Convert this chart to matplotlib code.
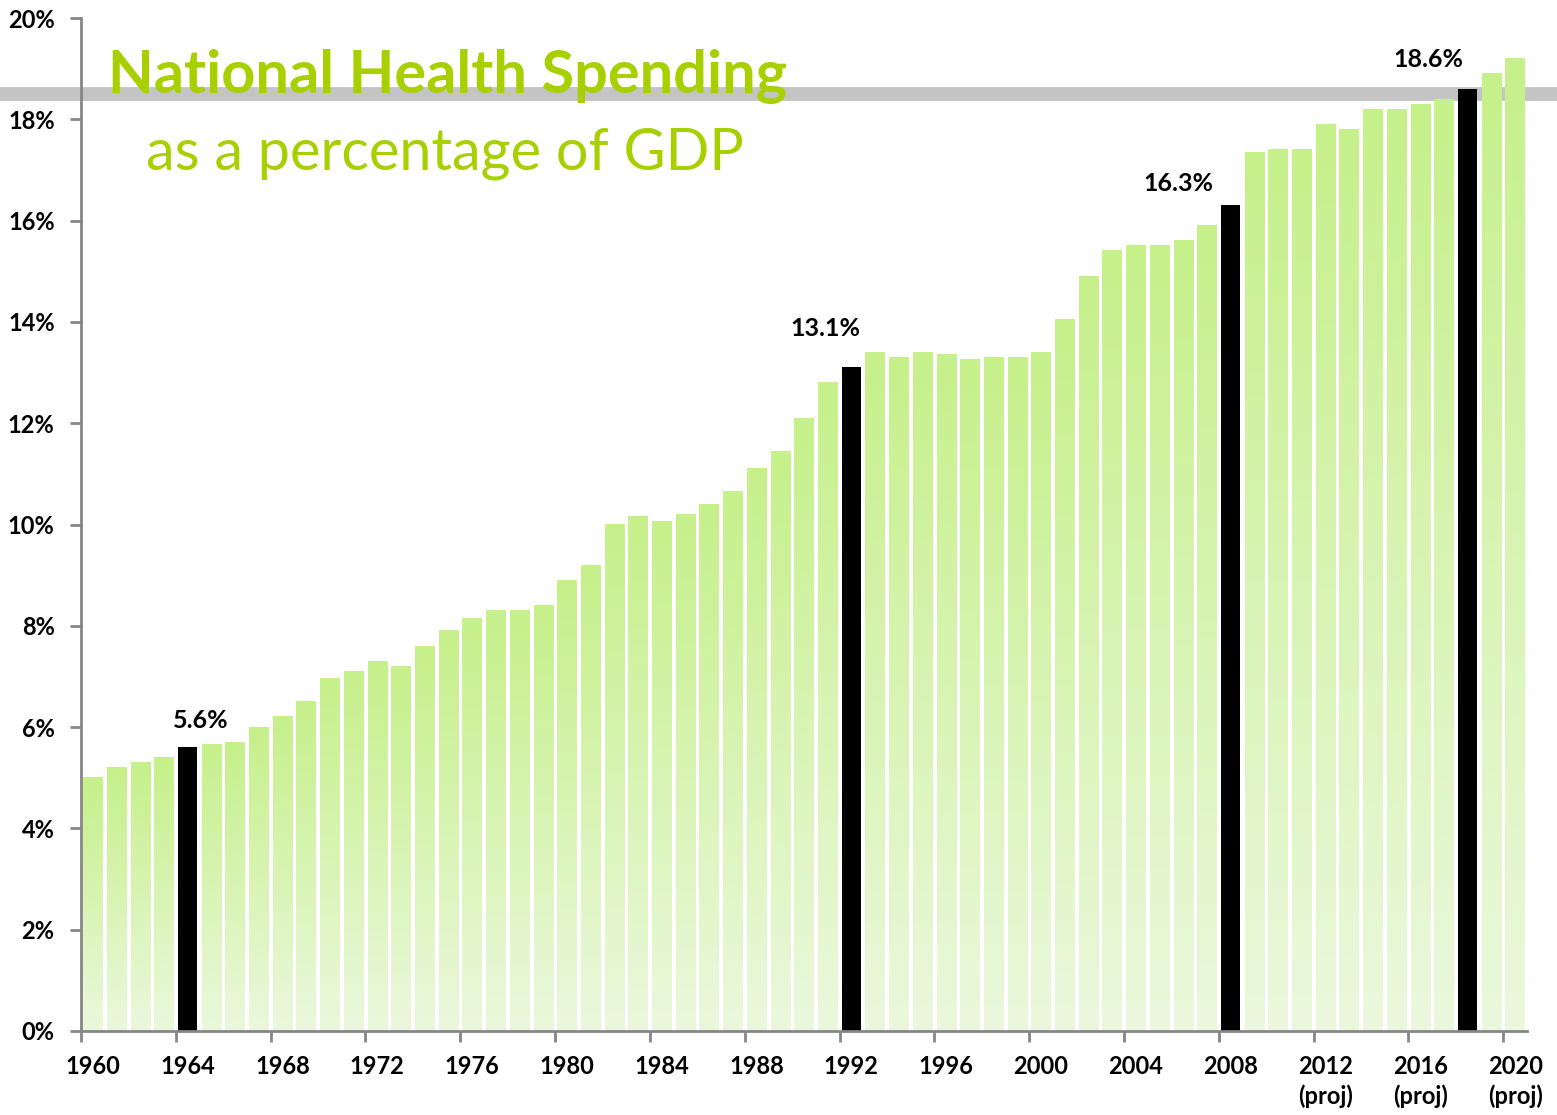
import numpy as np
import matplotlib
matplotlib.use("Agg")
import matplotlib.pyplot as plt
import matplotlib.transforms as mtransforms
from matplotlib.colors import LinearSegmentedColormap

# 数据
years = list(range(1960, 2021))
values = [5.0, 5.2, 5.3, 5.4, 5.6, 5.65, 5.7, 6.0, 6.2, 6.5,
          6.95, 7.1, 7.3, 7.2, 7.6, 7.9, 8.15, 8.3, 8.3, 8.4,
          8.9, 9.2, 10.0, 10.15, 10.05, 10.2, 10.4, 10.65, 11.1, 11.45,
          12.1, 12.8, 13.1, 13.4, 13.3, 13.4, 13.35, 13.25, 13.3, 13.3,
          13.4, 14.05, 14.9, 15.4, 15.5, 15.5, 15.6, 15.9, 16.3, 17.35,
          17.4, 17.4, 17.9, 17.8, 18.2, 18.2, 18.3, 18.4, 18.6, 18.9,
          19.2]
highlight_years = [1964, 1992, 2008, 2018]
highlight_labels = ['5.6%', '13.1%', '16.3%', '18.6%']
label_dx = [0.55, -1.1, -2.2, -1.65]
label_dy = [0.54, 0.76, 0.43, 0.59]
tick_years = list(range(1960, 2021, 4))
proj_years = [2012, 2016, 2020]
ref_line = 18.5

green = '#a8cf00'
font = ['Lato', 'DejaVu Sans']
plt.rcParams['font.family'] = font

fig = plt.figure(figsize=(15.57, 11.15), dpi=100)
ax = fig.add_axes([81 / 1557, 84 / 1115, 1446 / 1557, 1013 / 1115])

x = np.arange(len(years))
w = 0.82
cmap = LinearSegmentedColormap.from_list('g', ['#ebf8dd', '#c6f08a'])
grad = np.linspace(0, 1, 256).reshape(-1, 1)
for xi, yr, v in zip(x, years, values):
    if yr in highlight_years:
        ax.bar(xi, v, width=w, color='black', zorder=3)
    else:
        ax.imshow(grad, extent=(xi - w / 2, xi + w / 2, 0, v), origin='lower',
                  cmap=cmap, aspect='auto', zorder=3, interpolation='bilinear')

# 灰色参考线 (横跨整个图)
blend = mtransforms.blended_transform_factory(fig.transFigure, ax.transData)
ax.plot([0, 1], [ref_line, ref_line], transform=blend, color='#c4c4c4',
        lw=10, clip_on=False, zorder=1, solid_capstyle='butt')

for yr, lab, dx, dy in zip(highlight_years, highlight_labels, label_dx, label_dy):
    i = years.index(yr)
    ax.text(i + dx, values[i] + dy, lab, ha='center', va='center',
            fontsize=18, fontweight='bold', color='black', zorder=5)

ax.set_xlim(-0.5, len(years) - 0.5)
ax.set_ylim(0, 20)

# y 轴
ax.set_yticks(np.arange(0, 21, 2))
ax.set_yticklabels([f'{t}%' for t in range(0, 21, 2)], fontsize=17, fontweight='bold')
ax.tick_params(axis='y', length=8, width=2, color='#868686', pad=11)

# x 轴: 标签居中, 刻度在分类边界
tick_pos = [years.index(t) for t in tick_years]
tick_lab = [f'{t}\n(proj)' if t in proj_years else str(t) for t in tick_years]
ax.set_xticks(tick_pos)
ax.set_xticklabels(tick_lab, fontsize=17, fontweight='bold', linespacing=1.35, va='top')
ax.tick_params(axis='x', which='major', length=0, pad=17)
ax.set_xticks([p - 0.5 for p in tick_pos], minor=True)
ax.tick_params(axis='x', which='minor', length=8, width=2, color='#868686')

for s in ['top', 'right']:
    ax.spines[s].set_visible(False)
for s in ['left', 'bottom']:
    ax.spines[s].set_color('#868686')
    ax.spines[s].set_linewidth(2)
    ax.spines[s].set_zorder(4)

fig.text(108 / 1557, 1 - 93 / 1115, 'National Health Spending', color=green,
         fontsize=42.8, fontweight='bold', ha='left', va='baseline', zorder=6)
fig.text(146 / 1557, 1 - 170 / 1115, 'as a percentage of GDP', color=green,
         fontsize=41.5, ha='left', va='baseline', zorder=6)

fig.savefig('out.png', dpi=100)
